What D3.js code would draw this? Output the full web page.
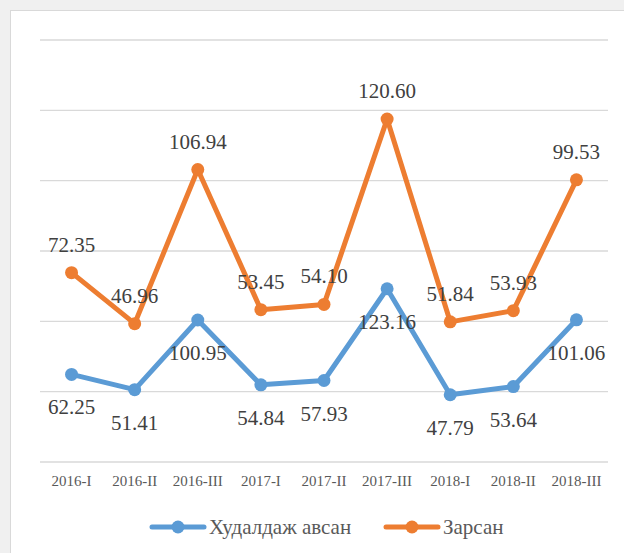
<!DOCTYPE html>
<html><head><meta charset="utf-8">
<script src="https://cdn.jsdelivr.net/npm/d3@7"></script>
<style>html,body{margin:0;padding:0;background:#f0f0f0;}svg{display:block;}</style>
</head><body>
<svg id="c" width="624" height="553"></svg>
<script>
const categories = ["2016-I","2016-II","2016-III","2017-I","2017-II","2017-III","2018-I","2018-II","2018-III"];
const bought = [62.25,51.41,100.95,54.84,57.93,123.16,47.79,53.64,101.06];
const sold = [72.35,46.96,106.94,53.45,54.10,120.60,51.84,53.93,99.53];
const seriesNames = ["Худалдаж авсан","Зарсан"];
const yTicks = [0,50,100,150,200,250,300];

const svg = d3.select("#c");
svg.append("rect").attr("x",10.5).attr("y",10.5).attr("width",640).attr("height",600)
  .attr("fill","#fff").attr("stroke","#d9d9d9");

const x = d3.scaleBand().domain(categories).range([40,608]);
const y = d3.scaleLinear().domain([0,300]).range([462,40]);
const serif = "Liberation Serif, Times New Roman, serif";

svg.append("g").selectAll("line").data(yTicks).join("line")
  .attr("x1",40).attr("x2",608).attr("y1",d=>y(d)).attr("y2",d=>y(d))
  .attr("stroke","#d9d9d9").attr("stroke-width",1.3);

svg.append("g").selectAll("text").data(categories).join("text")
  .attr("x",d=>x(d)+x.bandwidth()/2).attr("y",486).attr("text-anchor","middle")
  .style("font-family",serif).attr("font-size",15).attr("fill","#595959").text(d=>d);

const cx = d=>x(d)+x.bandwidth()/2;
const stackTop = bought.map((b,i)=>b+sold[i]);
const colors = ["#5B9BD5","#ED7D31"];
const lineGen = d3.line().x(d=>cx(d.c)).y(d=>y(d.v));

const s1 = categories.map((c,i)=>({c,v:bought[i],lab:bought[i]}));
const s2 = categories.map((c,i)=>({c,v:stackTop[i],lab:sold[i]}));

[[s1,colors[0]],[s2,colors[1]]].forEach(([data,col])=>{
  svg.append("path").datum(data).attr("d",lineGen).attr("fill","none")
    .attr("stroke",col).attr("stroke-width",5).attr("stroke-linejoin","round").attr("stroke-linecap","round");
  svg.append("g").selectAll("circle").data(data).join("circle")
    .attr("cx",d=>cx(d.c)).attr("cy",d=>y(d.v)).attr("r",6.5).attr("fill",col);
});
[[s1,40],[s2,-21]].forEach(([data,off])=>{
  svg.append("g").selectAll("text").data(data).join("text")
    .attr("x",d=>cx(d.c)).attr("y",d=>y(d.v)+off).attr("text-anchor","middle")
    .style("font-family",serif).attr("font-size",21).attr("fill","#404040").text(d=>d.lab.toFixed(2));
});

const leg = [{x:150,name:seriesNames[0],col:colors[0]},{x:384,name:seriesNames[1],col:colors[1]}];
leg.forEach(l=>{
  const g = svg.append("g");
  g.append("line").attr("x1",l.x+2).attr("x2",l.x+54).attr("y1",527).attr("y2",527)
    .attr("stroke",l.col).attr("stroke-width",5).attr("stroke-linecap","round");
  g.append("circle").attr("cx",l.x+28).attr("cy",527).attr("r",6.5).attr("fill",l.col);
  g.append("text").attr("x",l.x+59).attr("y",534).style("font-family",serif).attr("font-size",21)
    .attr("fill","#595959").text(l.name);
});
</script>
</body></html>
